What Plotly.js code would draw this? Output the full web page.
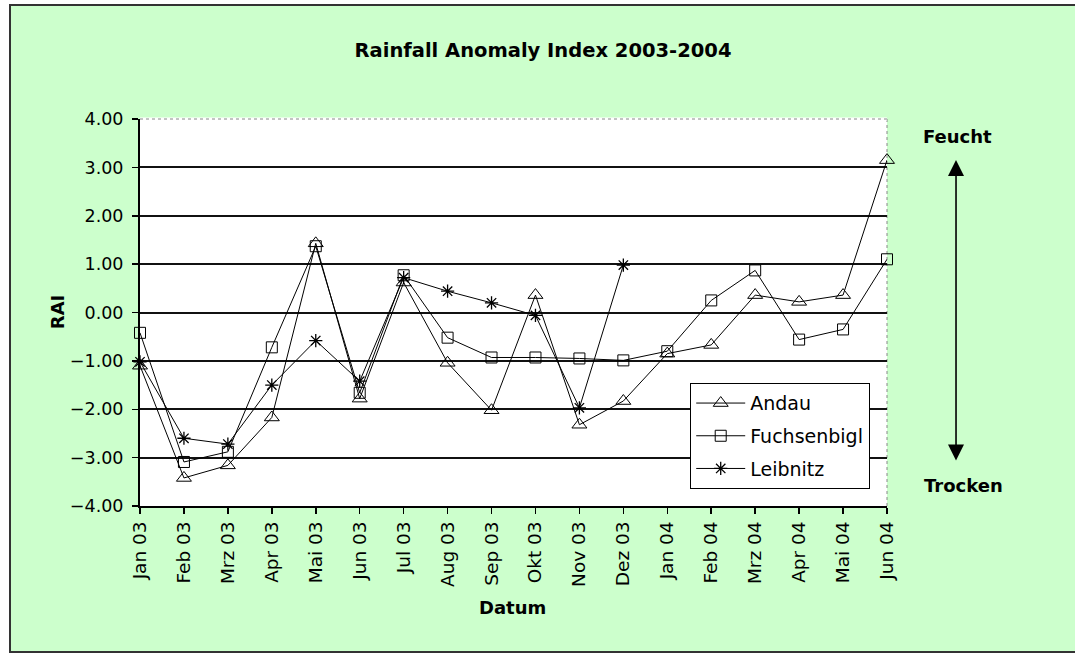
<!DOCTYPE html>
<html>
<head>
<meta charset="utf-8">
<script src="https://cdn.plot.ly/plotly-3.0.1.min.js"></script>
<style>
  html, body { margin: 0; padding: 0; background: #ffffff; overflow: hidden; width: 1075px; height: 655px; }
  #chart { position: absolute; left: 9px; top: 4px; width: 1064px; height: 645px;
           border-left: 2px solid #333; border-top: 2px solid #333; border-bottom: 2px solid #333; }
</style>
</head>
<body>
<div id="chart"></div>
<script>
const months = ["Jan 03","Feb 03","Mrz 03","Apr 03","Mai 03","Jun 03","Jul 03","Aug 03","Sep 03",
                "Okt 03","Nov 03","Dez 03","Jan 04","Feb 04","Mrz 04","Apr 04","Mai 04","Jun 04"];
const andau = [-1.10,-3.42,-3.16,-2.17,1.43,-1.78,0.62,-1.04,-2.02,0.36,-2.32,-1.83,-0.85,-0.67,0.36,0.22,0.36,3.15];
const fuchsenbigl = [-0.42,-3.09,-2.88,-0.72,1.37,-1.66,0.77,-0.52,-0.93,-0.93,-0.95,-0.99,-0.80,0.25,0.87,-0.56,-0.35,1.10];
const leibnitzMonths = months.slice(0, 12);
const leibnitz = [-1.02,-2.60,-2.72,-1.50,-0.58,-1.42,0.72,0.44,0.20,-0.06,-1.97,0.98];
const yTicks = [-4,-3,-2,-1,0,1,2,3,4];

const FONT = "DejaVu Sans, Liberation Sans, sans-serif";
const lineStyle = {color: "#000", width: 1};

const traces = [
  {x: months, y: andau, name: "Andau", mode: "lines+markers", legendgroup: "a",
   line: lineStyle, cliponaxis: false,
   marker: {symbol: "triangle-up-open", size: 13, color: "#000", line: {color: "#000", width: 1}}},
  {x: months, y: fuchsenbigl, name: "Fuchsenbigl", mode: "lines+markers", legendgroup: "b",
   line: lineStyle, cliponaxis: false,
   marker: {symbol: "square-open", size: 11, color: "#000", line: {color: "#000", width: 1}}},
  {x: leibnitzMonths, y: leibnitz, name: "Leibnitz", mode: "lines+markers", legendgroup: "c",
   line: lineStyle, cliponaxis: false,
   marker: {symbol: "asterisk-open", size: 11, color: "#000", line: {color: "#000", width: 1.3}}}
];

const layout = {
  width: 1064, height: 645,
  margin: {l: 129, r: 188, t: 113, b: 145, pad: 0},
  paper_bgcolor: "#CCFFCC",
  plot_bgcolor: "#FFFFFF",
  font: {family: FONT, color: "#000", size: 18},
  showlegend: true,
  hovermode: false,
  title: {text: "Rainfall Anomaly Index 2003-2004", x: 0.5, xref: "container", xanchor: "center",
          y: 0.932, yref: "container", yanchor: "middle",
          font: {family: FONT, size: 19.5, color: "#000", weight: "bold"}},
  xaxis: {type: "category", categoryorder: "array", categoryarray: months,
          range: [0, 17], showgrid: false, zeroline: false,
          showline: true, linecolor: "#000", linewidth: 2,
          ticks: "outside", ticklen: 6, tickwidth: 1.5, tickcolor: "#000",
          tickangle: -90, tickfont: {family: FONT, size: 18.5, color: "#000"}, fixedrange: true},
  yaxis: {range: [-4, 4], tickvals: yTicks, tickformat: ".2f",
          showgrid: true, gridcolor: "#111", gridwidth: 2, zeroline: false,
          showline: true, linecolor: "#000", linewidth: 2,
          ticks: "outside", ticklen: 6, tickwidth: 1.5, tickcolor: "#000",
          ticklabelstandoff: 5,
          tickfont: {family: FONT, size: 17.5, color: "#000"}, fixedrange: true},
  legend: {x: 0.7363, y: 0.3178, xanchor: "left", yanchor: "top",
           bgcolor: "#FFFFFF", bordercolor: "#000", borderwidth: 1.2,
           font: {family: FONT, size: 19, color: "#000"},
           itemwidth: 49, entrywidth: 180, entrywidthmode: "pixels",
           traceorder: "grouped", tracegroupgap: 5},
  shapes: [
    {type: "line", xref: "paper", yref: "paper", x0: 0, x1: 1, y0: 1, y1: 1,
     line: {color: "#FFFFFF", width: 3}, layer: "above"},
    {type: "line", xref: "paper", yref: "paper", x0: 0, x1: 1, y0: 1, y1: 1,
     line: {color: "#888", width: 1, dash: "dot"}, layer: "above"},
    {type: "line", xref: "paper", yref: "paper", x0: 1, x1: 1, y0: 0, y1: 1,
     line: {color: "#888", width: 1, dash: "dot"}, layer: "below"}
  ],
  annotations: [
    {xref: "paper", yref: "paper", x: 1.0924, y: 0.894, ax: 0, ay: 302, axref: "pixel", ayref: "pixel",
     text: "", showarrow: true, arrowhead: 2, startarrowhead: 2, arrowside: "end+start",
     arrowsize: 2, startarrowsize: 2, arrowwidth: 1.6, arrowcolor: "#000"},
    {xref: "paper", yref: "paper", x: 1.095, y: 0.956, text: "<b>Feucht</b>", showarrow: false,
     xanchor: "center", yanchor: "middle", font: {family: FONT, size: 18, color: "#000"}},
    {xref: "paper", yref: "paper", x: 1.1018, y: 0.0517, text: "<b>Trocken</b>", showarrow: false,
     xanchor: "center", yanchor: "middle", font: {family: FONT, size: 18, color: "#000"}},
    {xref: "paper", yref: "paper", x: 0.4993, y: -0.261, text: "<b>Datum</b>", showarrow: false,
     xanchor: "center", yanchor: "middle", font: {family: FONT, size: 18, color: "#000"}},
    {xref: "paper", yref: "paper", x: -0.111, y: 0.501, text: "<b>RAI</b>", showarrow: false,
     textangle: -90, xanchor: "center", yanchor: "middle", font: {family: FONT, size: 18, color: "#000"}}
  ]
};

Plotly.newPlot("chart", traces, layout, {displayModeBar: false, staticPlot: true});
</script>
</body>
</html>
